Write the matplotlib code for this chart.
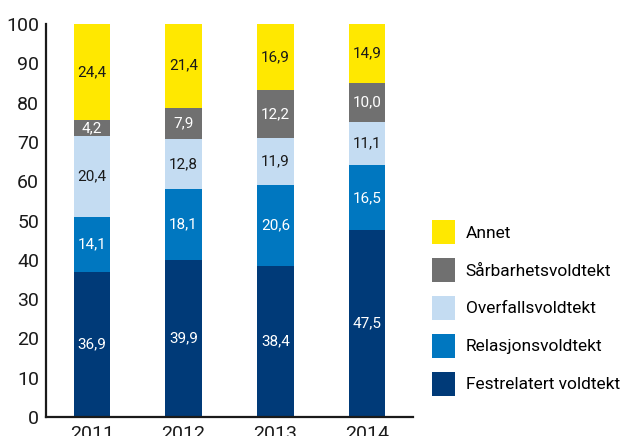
import numpy as np
import matplotlib
matplotlib.use("Agg")
import matplotlib.pyplot as plt
from matplotlib.patches import Patch

plt.rcParams['font.family'] = ['Roboto', 'DejaVu Sans']

# Data
years = ['2011', '2012', '2013', '2014']
festrelatert = [36.9, 39.9, 38.4, 47.5]
relasjon = [14.1, 18.1, 20.6, 16.5]
overfall = [20.4, 12.8, 11.9, 11.1]
sarbarhet = [4.2, 7.9, 12.2, 10.0]
annet = [24.4, 21.4, 16.9, 14.9]

series = [
    ('Festrelatert voldtekt', festrelatert, '#003a78', 'white'),
    ('Relasjonsvoldtekt', relasjon, '#0077c0', 'white'),
    ('Overfallsvoldtekt', overfall, '#c4dcf2', '#1a1a1a'),
    ('Sårbarhetsvoldtekt', sarbarhet, '#707070', 'white'),
    ('Annet', annet, '#ffe800', '#1a1a1a'),
]

fig = plt.figure(figsize=(6.24, 4.36), dpi=100)
ax = fig.add_axes([46 / 624, 19 / 436, (413 - 46) / 624, (417 - 24) / 436])

x = np.arange(len(years))
bottom = np.zeros(len(years))
handles = []
for name, vals, color, tcolor in series:
    vals = np.array(vals)
    ax.bar(x, vals, width=0.4, bottom=bottom, color=color, linewidth=0)
    for xi, b, v in zip(x, bottom, vals):
        ax.text(xi, b + v / 2, f'{v:.1f}'.replace('.', ','), ha='center', va='center',
                color=tcolor, fontsize=11)
    bottom += vals
    handles.append(Patch(facecolor=color, edgecolor='none', label=name))

ax.set_xlim(-0.5, 3.5)
ax.set_ylim(0, 100)
ax.set_yticks(range(0, 101, 10))
ax.set_xticks(x)
ax.set_xticklabels(years)
ax.tick_params(axis='both', length=0, labelsize=14, colors='#1a1a1a')
ax.tick_params(axis='y', pad=5)
ax.tick_params(axis='x', pad=6)
for s in ['top', 'right']:
    ax.spines[s].set_visible(False)
for s in ['left', 'bottom']:
    ax.spines[s].set_linewidth(1.6)
    ax.spines[s].set_color('#1a1a1a')

fig.legend(handles=handles[::-1], loc='upper left',
           bbox_to_anchor=(432 / 624, (436 - 220) / 436),
           frameon=False, fontsize=12.5, borderpad=0, borderaxespad=0,
           handlelength=1.35, handleheight=1.75, handletextpad=0.6,
           labelspacing=0.8)

fig.savefig('out.png', dpi=100)
